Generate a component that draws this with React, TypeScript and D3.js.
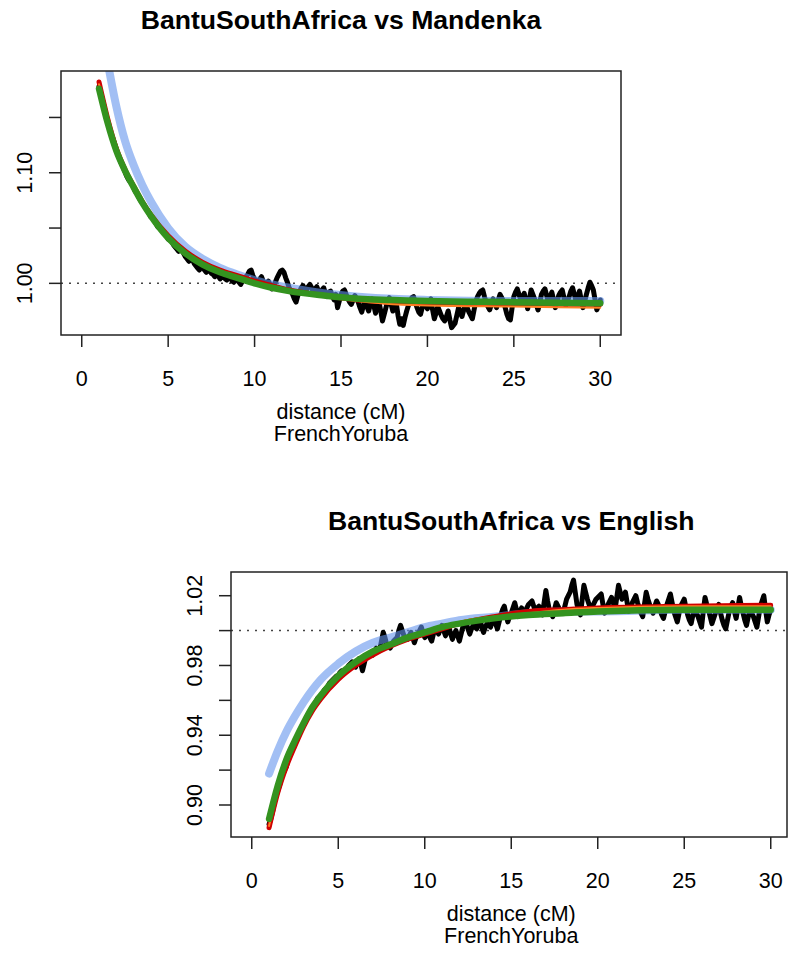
import React from "react";
import * as d3 from "d3";

// ---- data ----
const distances: number[] = d3.range(291).map((i) => +(1 + i * 0.1).toFixed(1));
const fitDistances = [1, 1.5, 2, 2.5, 3, 3.5, 4, 5, 6, 7, 8, 9, 10, 11, 12, 14, 16, 18, 20, 25, 30];

const titles = ["BantuSouthAfrica vs Mandenka", "BantuSouthAfrica vs English"];
const xLabelLines = ["distance (cM)", "FrenchYoruba"];
const xTicks = [0, 5, 10, 15, 20, 25, 30];

const yTicks1 = [1.0, 1.05, 1.1, 1.15];
const yTickLabels1 = ["1.00", "", "1.10", ""];
const yTicks2 = [0.9, 0.92, 0.94, 0.96, 0.98, 1.0, 1.02];
const yTickLabels2 = ["0.90", "", "0.94", "", "0.98", "", "1.02"];

const observed1 = [
  1.178, 1.172, 1.166, 1.159, 1.152, 1.146, 1.140, 1.135, 1.131, 1.126,
  1.121, 1.116, 1.112, 1.108, 1.105, 1.101, 1.097, 1.094, 1.092, 1.090,
  1.087, 1.083, 1.081, 1.078, 1.075, 1.073, 1.071, 1.068, 1.066, 1.063,
  1.060, 1.059, 1.057, 1.054, 1.051, 1.050, 1.048, 1.047, 1.045, 1.043,
  1.040, 1.039, 1.038, 1.035, 1.033, 1.031, 1.029, 1.031, 1.030, 1.027,
  1.024, 1.022, 1.020, 1.023, 1.022, 1.018, 1.016, 1.014, 1.012, 1.015,
  1.015, 1.012, 1.010, 1.011, 1.013, 1.009, 1.008, 1.006, 1.010, 1.007,
  1.004, 1.006, 1.007, 1.004, 1.003, 1.005, 1.006, 1.002, 1.001, 1.004,
  1.004, 1.001, 0.999, 1.002, 1.003, 1.006, 1.008, 1.011, 1.012, 1.007,
  1.004, 1.001, 1.000, 1.004, 1.006, 1.002, 0.998, 1.000, 1.002, 0.999,
  0.995, 0.998, 1.001, 1.005, 1.008, 1.011, 1.012, 1.010, 1.005, 1.001,
  0.996, 0.993, 0.990, 0.986, 0.983, 0.989, 0.992, 0.996, 0.998, 0.995,
  0.994, 0.997, 0.999, 0.996, 0.992, 0.995, 0.997, 0.993, 0.990, 0.994,
  0.996, 0.991, 0.988, 0.992, 0.993, 0.989, 0.985, 0.990, 0.978, 0.984,
  0.990, 0.993, 0.994, 0.990, 0.986, 0.983, 0.981, 0.985, 0.989, 0.986,
  0.983, 0.978, 0.974, 0.980, 0.984, 0.979, 0.975, 0.981, 0.986, 0.980,
  0.973, 0.979, 0.983, 0.975, 0.966, 0.972, 0.978, 0.984, 0.987, 0.981,
  0.975, 0.979, 0.982, 0.971, 0.963, 0.968, 0.962, 0.969, 0.975, 0.980,
  0.984, 0.987, 0.988, 0.983, 0.978, 0.974, 0.972, 0.978, 0.983, 0.980,
  0.977, 0.982, 0.986, 0.976, 0.968, 0.973, 0.979, 0.975, 0.971, 0.968,
  0.966, 0.970, 0.975, 0.967, 0.960, 0.962, 0.964, 0.971, 0.978, 0.974,
  0.970, 0.976, 0.982, 0.978, 0.974, 0.971, 0.968, 0.976, 0.984, 0.988,
  0.991, 0.993, 0.994, 0.988, 0.983, 0.979, 0.976, 0.981, 0.986, 0.982,
  0.978, 0.985, 0.990, 0.987, 0.984, 0.978, 0.972, 0.968, 0.967, 0.978,
  0.988, 0.992, 0.995, 0.990, 0.985, 0.988, 0.991, 0.984, 0.977, 0.986,
  0.994, 0.990, 0.986, 0.981, 0.976, 0.983, 0.990, 0.993, 0.995, 0.989,
  0.983, 0.988, 0.992, 0.985, 0.978, 0.984, 0.989, 0.992, 0.994, 0.987,
  0.980, 0.984, 0.988, 0.993, 0.996, 0.990, 0.984, 0.988, 0.993, 0.985,
  0.978, 0.984, 0.990, 0.996, 1.001, 0.998, 0.994, 0.985, 0.976, 0.980,
  0.985,
];
const blueFit1 = [1.245, 1.2, 1.16, 1.129, 1.107, 1.089, 1.074, 1.05, 1.033, 1.022, 1.014, 1.008, 1.003, 0.999, 0.996, 0.991, 0.988, 0.986, 0.985, 0.984, 0.984];
const redFit1 = [1.182, 1.149, 1.122, 1.103, 1.088, 1.074, 1.062, 1.043, 1.029, 1.019, 1.012, 1.007, 1.002, 0.998, 0.994, 0.989, 0.985, 0.983, 0.982, 0.981, 0.981];
const orangeFit1 = [1.18, 1.147, 1.121, 1.102, 1.087, 1.073, 1.061, 1.042, 1.028, 1.018, 1.011, 1.006, 1.001, 0.997, 0.993, 0.988, 0.984, 0.981, 0.98, 0.979, 0.978];
const greenFit1 = [1.176, 1.145, 1.12, 1.102, 1.087, 1.073, 1.061, 1.041, 1.027, 1.017, 1.01, 1.005, 1.0, 0.996, 0.993, 0.989, 0.986, 0.985, 0.984, 0.983, 0.982];

const observed2 = [
  0.889, 0.892, 0.896, 0.901, 0.905, 0.908, 0.911, 0.915, 0.918, 0.920,
  0.922, 0.926, 0.929, 0.932, 0.934, 0.936, 0.937, 0.940, 0.943, 0.945,
  0.946, 0.949, 0.951, 0.952, 0.953, 0.955, 0.957, 0.959, 0.961, 0.962,
  0.962, 0.964, 0.966, 0.967, 0.968, 0.970, 0.971, 0.972, 0.973, 0.974,
  0.974, 0.976, 0.977, 0.977, 0.976, 0.978, 0.980, 0.981, 0.982, 0.981,
  0.979, 0.982, 0.984, 0.981, 0.977, 0.981, 0.985, 0.986, 0.987, 0.987,
  0.986, 0.988, 0.990, 0.989, 0.989, 0.994, 0.999, 0.996, 0.992, 0.991,
  0.990, 0.992, 0.994, 0.995, 0.996, 1.000, 1.003, 1.000, 0.997, 0.996,
  0.995, 0.997, 0.999, 0.996, 0.993, 0.996, 0.998, 1.000, 1.002, 0.999,
  0.996, 0.998, 0.999, 0.996, 0.994, 0.998, 1.001, 1.000, 0.998, 1.001,
  1.003, 1.000, 0.997, 1.000, 1.002, 0.998, 0.995, 0.998, 1.000, 0.997,
  0.994, 0.998, 1.002, 1.003, 1.004, 1.001, 0.998, 1.001, 1.003, 1.002,
  1.001, 1.004, 1.006, 1.002, 0.999, 1.002, 1.004, 1.003, 1.002, 1.005,
  1.007, 1.004, 1.001, 1.005, 1.009, 1.012, 1.014, 1.009, 1.005, 1.008,
  1.010, 1.013, 1.016, 1.012, 1.008, 1.011, 1.013, 1.011, 1.010, 1.013,
  1.015, 1.016, 1.017, 1.014, 1.011, 1.013, 1.014, 1.011, 1.009, 1.016,
  1.023, 1.017, 1.012, 1.010, 1.008, 1.012, 1.016, 1.014, 1.012, 1.011,
  1.010, 1.014, 1.018, 1.020, 1.022, 1.026, 1.029, 1.022, 1.015, 1.012,
  1.009, 1.018, 1.026, 1.022, 1.018, 1.015, 1.012, 1.014, 1.016, 1.018,
  1.019, 1.020, 1.021, 1.015, 1.010, 1.013, 1.015, 1.017, 1.019, 1.016,
  1.012, 1.019, 1.026, 1.022, 1.018, 1.020, 1.022, 1.016, 1.011, 1.014,
  1.016, 1.018, 1.020, 1.016, 1.013, 1.010, 1.008, 1.015, 1.022, 1.018,
  1.015, 1.012, 1.010, 1.014, 1.017, 1.015, 1.012, 1.009, 1.007, 1.011,
  1.015, 1.018, 1.021, 1.016, 1.011, 1.008, 1.005, 1.010, 1.014, 1.016,
  1.018, 1.013, 1.009, 1.006, 1.004, 1.009, 1.013, 1.010, 1.008, 1.005,
  1.002, 1.011, 1.019, 1.015, 1.012, 1.008, 1.004, 1.007, 1.010, 1.013,
  1.015, 1.010, 1.006, 1.003, 1.001, 1.006, 1.011, 1.014, 1.016, 1.011,
  1.007, 1.013, 1.019, 1.014, 1.010, 1.006, 1.003, 1.008, 1.012, 1.010,
  1.008, 1.005, 1.002, 1.008, 1.014, 1.017, 1.020, 1.012, 1.005, 1.009,
  1.012,
];
const blueFit2 = [0.918, 0.931, 0.942, 0.951, 0.959, 0.966, 0.972, 0.981, 0.988, 0.993, 0.996, 0.999, 1.002, 1.004, 1.006, 1.008, 1.01, 1.011, 1.011, 1.012, 1.012];
const redFit2 = [0.887, 0.907, 0.922, 0.934, 0.945, 0.954, 0.961, 0.972, 0.98, 0.986, 0.991, 0.995, 0.998, 1.001, 1.004, 1.008, 1.011, 1.012, 1.013, 1.014, 1.0145];
const orangeFit2 = [0.888, 0.908, 0.923, 0.935, 0.946, 0.955, 0.962, 0.973, 0.981, 0.987, 0.992, 0.996, 0.999, 1.002, 1.005, 1.008, 1.01, 1.012, 1.013, 1.014, 1.014];
const greenFit2 = [0.892, 0.911, 0.926, 0.937, 0.947, 0.956, 0.963, 0.974, 0.982, 0.988, 0.992, 0.996, 0.999, 1.002, 1.004, 1.007, 1.009, 1.01, 1.011, 1.012, 1.012];

const FONT = "'Liberation Sans', Arial, Helvetica, sans-serif";

type PanelProps = {
  id: string;
  title: string;
  observed: number[];
  blue: number[];
  red: number[];
  orange: number[];
  green: number[];
  left: number;
  right: number;
  boxRight: number;
  top: number;
  bottom: number;
  yDomain: [number, number];
  yTicks: number[];
  yTickLabels: string[];
};

function Panel(p: PanelProps) {
  const x = d3.scaleLinear().domain([-1.2, 31.2]).range([p.left, p.right]);
  const y = d3.scaleLinear().domain(p.yDomain).range([p.bottom, p.top]);
  const obsLine = d3
    .line<number>()
    .x((_, i) => x(distances[i]))
    .y((d) => y(d));
  const fitLine = d3
    .line<number>()
    .x((_, i) => x(fitDistances[i]))
    .y((d) => y(d))
    .curve(d3.curveMonotoneX);
  const cx = (p.left + p.right) / 2;
  const fs = 21.5;
  return (
    <g>
      <defs>
        <clipPath id={p.id}>
          <rect x={p.left} y={p.top} width={p.boxRight - p.left} height={p.bottom - p.top} />
        </clipPath>
      </defs>
      <text x={cx} y={p.top - 42} textAnchor="middle" fontFamily={FONT} fontWeight="bold" fontSize={26.6}>
        {p.title}
      </text>
      <line x1={p.left} x2={p.boxRight} y1={y(1)} y2={y(1)} stroke="#444" strokeWidth={1.5} strokeDasharray="2,6" />
      <g clipPath={`url(#${p.id})`} fill="none" strokeLinecap="round" strokeLinejoin="round">
        <path d={obsLine(p.observed) || ""} stroke="#000" strokeWidth={5} />
        <path d={fitLine(p.blue) || ""} stroke="rgb(100,149,237)" strokeOpacity={0.6} strokeWidth={8} />
        <path d={fitLine(p.red) || ""} stroke="#d00000" strokeWidth={5} />
        <path d={fitLine(p.orange) || ""} stroke="#ff7f24" strokeWidth={2} />
        <path d={fitLine(p.green) || ""} stroke="#34931f" strokeWidth={6.5} />
      </g>
      <rect x={p.left} y={p.top} width={p.boxRight - p.left} height={p.bottom - p.top} fill="none" stroke="#222" strokeWidth={1.5} />
      {xTicks.map((t) => (
        <g key={"x" + t}>
          <line x1={x(t)} x2={x(t)} y1={p.bottom} y2={p.bottom + 12} stroke="#222" strokeWidth={1.5} />
          <text x={x(t)} y={p.bottom + 51} textAnchor="middle" fontFamily={FONT} fontSize={fs}>
            {t}
          </text>
        </g>
      ))}
      {p.yTicks.map((t, i) => (
        <g key={"y" + t}>
          <line x1={p.left - 12} x2={p.left} y1={y(t)} y2={y(t)} stroke="#222" strokeWidth={1.5} />
          {p.yTickLabels[i] ? (
            <text
              transform={`translate(${p.left - 29},${y(t)}) rotate(-90)`}
              textAnchor="middle"
              fontFamily={FONT}
              fontSize={fs}
            >
              {p.yTickLabels[i]}
            </text>
          ) : null}
        </g>
      ))}
      {xLabelLines.map((s, i) => (
        <text key={s} x={cx} y={p.bottom + 84 + i * 22} textAnchor="middle" fontFamily={FONT} fontSize={fs}>
          {s}
        </text>
      ))}
    </g>
  );
}

export default function App() {
  return (
    <svg width={790} height={964} style={{ position: "absolute", left: 0, top: 0, background: "#fff" }}>
      <rect x={0} y={0} width={790} height={964} fill="#fff" />
      <Panel
        id="clip1"
        title={titles[0]}
        observed={observed1}
        blue={blueFit1}
        red={redFit1}
        orange={orangeFit1}
        green={greenFit1}
        left={61}
        right={621}
        boxRight={621}
        top={71}
        bottom={335}
        yDomain={[0.9533, 1.192]}
        yTicks={yTicks1}
        yTickLabels={yTickLabels1}
      />
      <Panel
        id="clip2"
        title={titles[1]}
        observed={observed2}
        blue={blueFit2}
        red={redFit2}
        orange={orangeFit2}
        green={greenFit2}
        left={231}
        right={791.5}
        boxRight={787}
        top={572}
        bottom={837}
        yDomain={[0.88165, 1.0336]}
        yTicks={yTicks2}
        yTickLabels={yTickLabels2}
      />
    </svg>
  );
}
